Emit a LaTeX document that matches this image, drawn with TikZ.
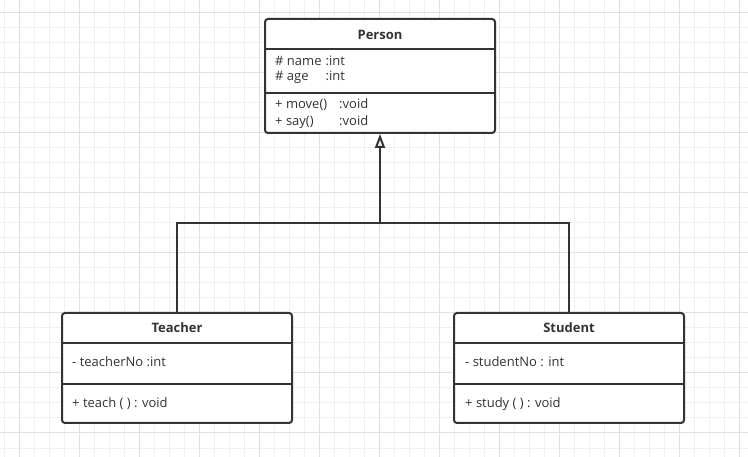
\documentclass[tikz,border=0pt]{standalone}
\usepackage{fontspec}
\setmainfont{Open Sans}
\usetikzlibrary{arrows.meta}
\definecolor{umlline}{HTML}{333333}
\definecolor{gridminor}{HTML}{F0F0F0}
\definecolor{gridmajor}{HTML}{E0E0E0}
\newcommand{\umlrow}[3]{\makebox[#1][l]{#2}#3}
\tikzset{
  classbox/.style={draw=umlline, line width=2pt, rounded corners=3pt, fill=white, inner sep=0pt, minimum width=230pt},
  classname/.style={font=\fontsize{13}{15}\selectfont\bfseries, text=umlline, inner sep=0pt},
  member/.style={font=\fontsize{13}{15}\selectfont, text=umlline, anchor=west, inner sep=0pt},
  divider/.style={draw=umlline, line width=2pt},
  gen/.style={draw=umlline, line width=2pt, -{Triangle[open, length=14pt, width=10pt]}},
  link/.style={draw=umlline, line width=2pt},
}
\begin{document}
\begin{tikzpicture}[x=1pt,y=-1pt]
  \fill[white] (0,0) rectangle (748,457);
  \useasboundingbox (0,0) rectangle (748,457);
  % background grid
  \foreach \x in {4,19,...,739} \draw[gridminor, line width=1pt] (\x,0) -- (\x,457);
  \foreach \y in {13,28,...,448} \draw[gridminor, line width=1pt] (0,\y) -- (748,\y);
  \foreach \x in {19,79,...,739} \draw[gridmajor, line width=1pt] (\x,0) -- (\x,457);
  \foreach \y in {13,73,...,433} \draw[gridmajor, line width=1pt] (0,\y) -- (748,\y);

  % Person
  \node[classbox, minimum height=114pt] (person) at (380,76) {};
  \node[classname] (personname) at (380,35) {Person};
  \draw[divider] (person.west |- 0,49) -- (person.east |- 0,49);
  \draw[divider] (person.west |- 0,93) -- (person.east |- 0,93);
  \node[member] (personname1) at (275,61) {\umlrow{50.5pt}{\# name}{:int}};
  \node[member] (personage) at (275,77) {\umlrow{50.5pt}{\# age}{:int}};
  \node[member] (personmove) at (275,105) {\umlrow{64pt}{+ move()}{:void}};
  \node[member] (personsay) at (275,122) {\umlrow{64pt}{+ say()}{:void}};

  % Teacher
  \node[classbox, minimum height=110pt] (teacher) at (177,368) {};
  \node[classname] (teachername) at (177,328) {Teacher};
  \draw[divider] (teacher.west |- 0,343) -- (teacher.east |- 0,343);
  \draw[divider] (teacher.west |- 0,384) -- (teacher.east |- 0,384);
  \node[member] (teacherno) at (72,362) {- teacherNo :int};
  \node[member] (teacherteach) at (72,404) {+ teach ( ) : void};

  % Student
  \node[classbox, minimum height=110pt] (student) at (569,368) {};
  \node[classname] (studentname) at (569,328) {Student};
  \draw[divider] (student.west |- 0,343) -- (student.east |- 0,343);
  \draw[divider] (student.west |- 0,384) -- (student.east |- 0,384);
  \node[member] (studentno) at (465,362) {- studentNo : int};
  \node[member] (studentstudy) at (465,404) {+ study ( ) : void};

  % generalisation
  \coordinate (fork) at (380,223);
  \draw[link] (teacher.north) |- (fork) -| (student.north);
  \draw[gen] (fork) -- (person.south);
\end{tikzpicture}
\end{document}
